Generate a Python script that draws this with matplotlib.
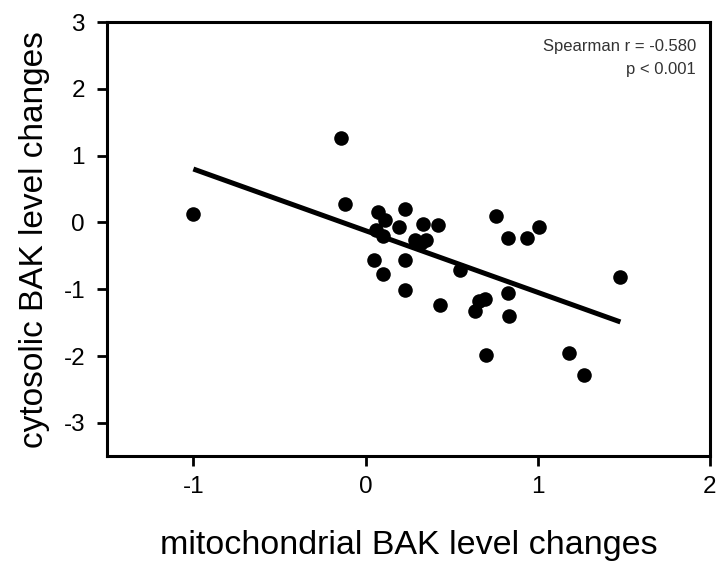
import matplotlib
matplotlib.use("Agg")
import matplotlib.pyplot as plt

plt.rcParams['font.family'] = ['Liberation Sans', 'DejaVu Sans']
plt.rcParams['axes.unicode_minus'] = False

mito_x = [-1.00, -0.14, -0.12, 0.075, 0.115, 0.23, 0.195, 0.333, 0.42, 0.061,
          0.104, 0.288, 0.35, 0.323, 0.048, 0.227, 0.101, 0.229, 0.43, 0.55,
          0.635, 0.661, 0.693, 0.70, 0.755, 0.83, 0.94, 1.008, 0.83, 0.835,
          1.18, 1.27, 1.475]
cyto_y = [0.12, 1.27, 0.27, 0.16, 0.03, 0.20, -0.07, -0.03, -0.04, -0.12,
          -0.20, -0.26, -0.27, -0.31, -0.56, -0.56, -0.77, -1.01, -1.24, -0.71,
          -1.32, -1.18, -1.14, -1.98, 0.09, -0.23, -0.23, -0.07, -1.06, -1.40,
          -1.95, -2.28, -0.81]
fit_x = [-1.0, 1.48]
fit_y = [0.80, -1.49]
x_ticks = [-1, 0, 1, 2]
y_ticks = [-3, -2, -1, 0, 1, 2, 3]

fig = plt.figure(figsize=(7.2, 5.66), dpi=100)
ax = fig.add_axes([0.149, 0.194, 0.837, 0.767])
ax.scatter(mito_x, cyto_y, s=110, color='black', zorder=3, linewidths=0)
ax.plot(fit_x, fit_y, color='black', lw=3.6, solid_capstyle='butt', zorder=2)

ax.set_xlim(-1.5, 2)
ax.set_ylim(-3.5, 3)
ax.set_xticks(x_ticks)
ax.set_yticks(y_ticks)
for s in ax.spines.values():
    s.set_linewidth(2.2)
ax.tick_params(axis='both', direction='out', length=7, width=2, labelsize=17.5)
ax.tick_params(axis='x', pad=7)
ax.tick_params(axis='y', pad=9)
ax.set_xlabel('mitochondrial BAK level changes', fontsize=24.5, labelpad=23)
ax.set_ylabel('cytosolic BAK level changes', fontsize=24, labelpad=10)

ax.text(0.977, 0.962, 'Spearman r = -0.580\np < 0.001', transform=ax.transAxes,
        ha='right', va='top', fontsize=12, color='#333333', linespacing=1.7,
        multialignment='right')

fig.savefig('out.png', dpi=100)
